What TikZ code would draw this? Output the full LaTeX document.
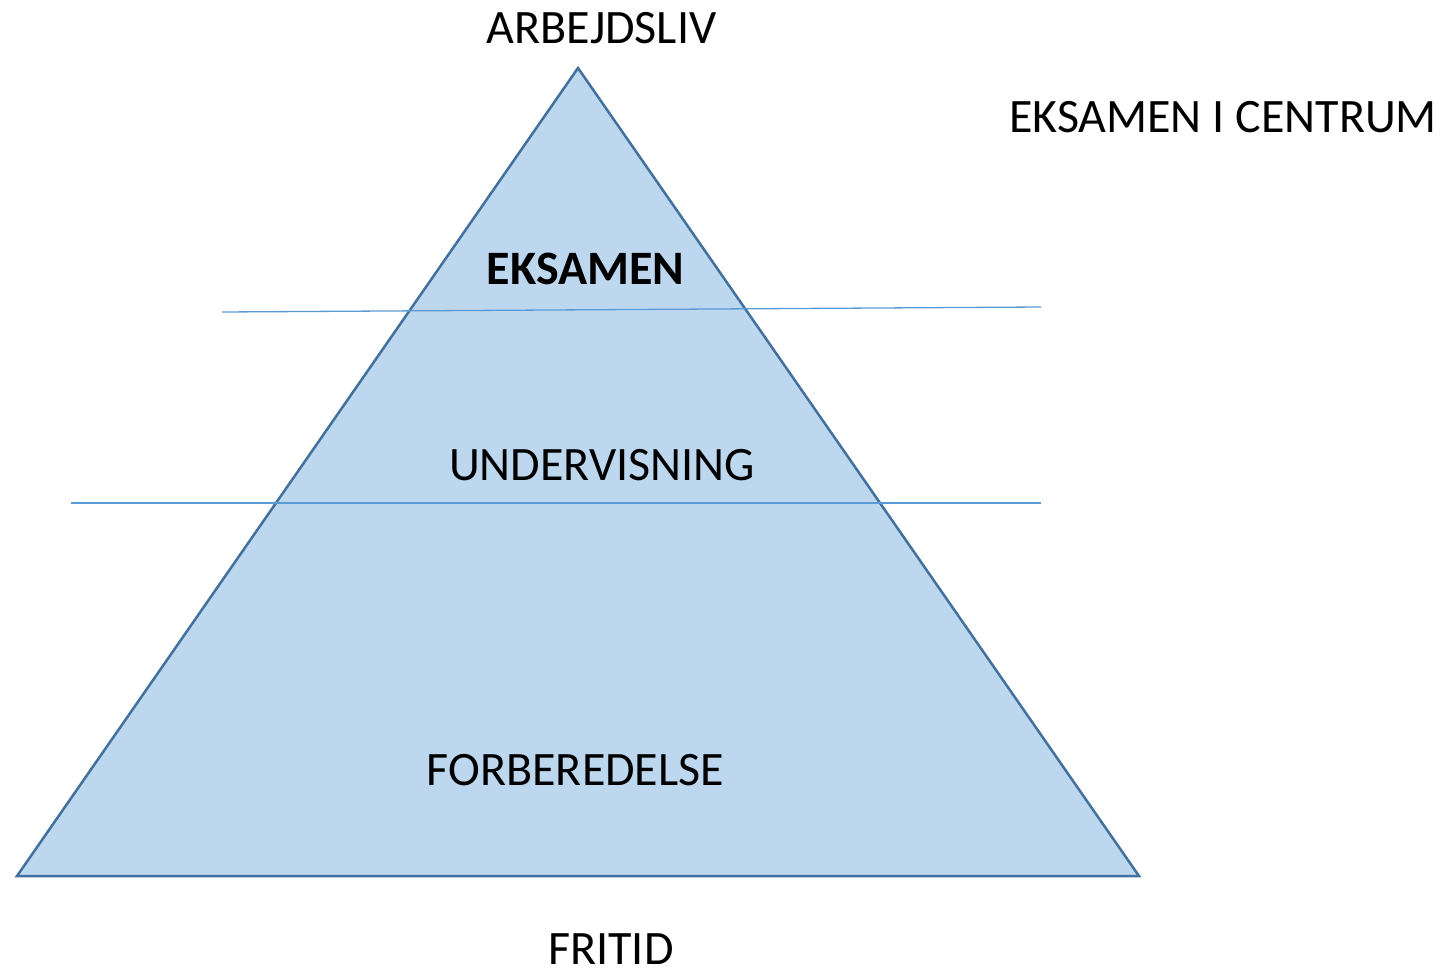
\documentclass[tikz,border=0pt]{standalone}
\usepackage{fontspec}
\setmainfont{Carlito}
\definecolor{tfill}{HTML}{BDD7EE}
\definecolor{tedge}{HTML}{41719C}
\definecolor{tline}{HTML}{5B9BD5}
\begin{document}
\begin{tikzpicture}[x=1pt,y=-1pt,
  lbl/.style={anchor=base,inner sep=0pt,font=\fontsize{48}{50}\selectfont},
  divider/.style={draw=tline,line width=1.3pt}]
\useasboundingbox (0,0) rectangle (1441,969);
\coordinate (apex) at (578,68);
\coordinate (bl) at (17,876);
\coordinate (br) at (1139,876);
\draw[fill=tfill,draw=tedge,line width=2.5pt,line join=miter] (apex) -- (bl) -- (br) -- cycle;
\coordinate (l1a) at (222,312);
\coordinate (l1b) at (1041,307);
\coordinate (l2a) at (71,503);
\coordinate (l2b) at (1041,503);
\draw[divider] (l1a) -- (l1b);
\draw[divider] (l2a) -- (l2b);
\node[lbl] (arb) at (601.5,43) {ARBEJDSLIV};
\node[lbl] (cent) at (1223,132) {EKSAMEN I CENTRUM};
\node[lbl,font=\fontsize{48}{50}\selectfont\bfseries] (eks) at (585.5,284) {EKSAMEN};
\node[lbl] (und) at (602,480) {UNDERVISNING};
\node[lbl] (forb) at (575.5,785) {FORBEREDELSE};
\node[lbl,text depth=0pt] (frit) at (611,964) {FRITID};
\end{tikzpicture}
\end{document}
